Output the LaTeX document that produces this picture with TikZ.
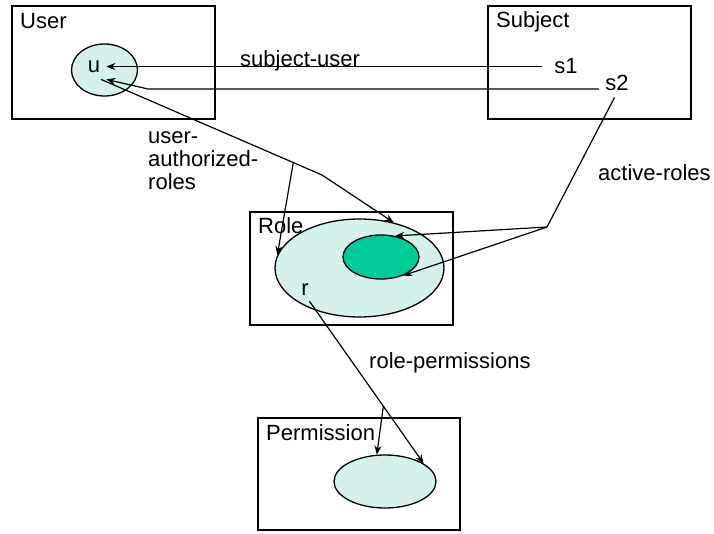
\documentclass[tikz,border=0pt]{standalone}
\usepackage{fontspec}
\setmainfont{Liberation Sans}
\usetikzlibrary{shapes.geometric,arrows.meta,calc}
\definecolor{dotfill}{RGB}{212,242,235}
\definecolor{activefill}{RGB}{0,204,153}
\begin{document}
\begin{tikzpicture}[x=1pt,y=-1pt,
  box/.style={draw,line width=1.3pt,minimum width=203pt,minimum height=113pt,inner sep=0pt},
  set/.style={draw,ellipse,line width=1.3pt,fill=dotfill,inner sep=0pt},
  lbl/.style={inner sep=0pt,font=\fontsize{22}{23}\selectfont},
  itm/.style={inner sep=6pt,font=\fontsize{22}{23}\selectfont},
  conn/.style={line width=1.2pt},
  arr/.style={conn,-{Stealth[length=9pt,width=7pt]}}]
\useasboundingbox (0,0) rectangle (714,534);

\node[box] (user) at (113.5,62.5) {};
\node[box] (subject) at (589.5,62.5) {};
\node[box] (role) at (351.5,268.5) {};
\node[box,minimum width=202pt,minimum height=112pt] (perm) at (359,474) {};

\node[set,minimum width=66pt,minimum height=52pt] (uell) at (104.5,70) {};
\node[set,minimum width=169pt,minimum height=98pt] (rell) at (359.5,268) {};
\node[set,fill=activefill,minimum width=76pt,minimum height=44pt] (aell) at (381,257) {};
\node[set,minimum width=102pt,minimum height=53pt] (pell) at (385,481.5) {};

\node[lbl,anchor=base west] (userlbl) at (20,29) {User};
\node[lbl,anchor=base west] (subjectlbl) at (496,28) {Subject};
\node[lbl,anchor=base west] (rolelbl) at (258,234) {Role};
\node[lbl,anchor=base west] (permlbl) at (266,440) {Permission};

\node[itm,anchor=base] (u) at (94,73) {u};
\node[itm,anchor=base] (s1) at (566,74) {s1};
\node[itm,anchor=base] (s2) at (617,91) {s2};
\node[itm,anchor=base] (r) at (305,295) {r};

\node[lbl,anchor=base west] (sulbl) at (240,67) {subject-user};
\node[lbl,anchor=base west] (arlbl) at (598,181) {active-roles};
\node[lbl,anchor=base west] (rplbl) at (369,368) {role-permissions};
\node[lbl,anchor=north west,align=left] (uarlbl) at (148,131) {user-\\authorized-\\roles};

\coordinate (subend) at (148,89);
\coordinate (uarbend) at (322,175);
\coordinate (actbend) at (547,227);

\draw[arr] ([xshift=-6pt]s1.west) -- (u.east |- s1.west);
\draw[arr] (s2.west |- subend) -- (subend) -- (u.south east);
\draw[conn] (u.-60) -- (uarbend);
\draw[arr] (uarbend) -- (rell.53);
\coordinate (uarsplit) at ($(u.-60)!0.87!(uarbend)$);
\draw[arr] (uarsplit) -- (rell.171);
\draw[conn] (s2.-100) -- (actbend);
\draw[arr] (actbend) -- (aell.56);
\draw[arr] (actbend) -- (aell.-40);
\draw[arr] (r.-70) -- (pell.25);
\coordinate (rpsplit) at ($(r.-70)!0.647!(pell.25)$);
\draw[arr] (rpsplit) -- (pell.107);
\end{tikzpicture}
\end{document}
